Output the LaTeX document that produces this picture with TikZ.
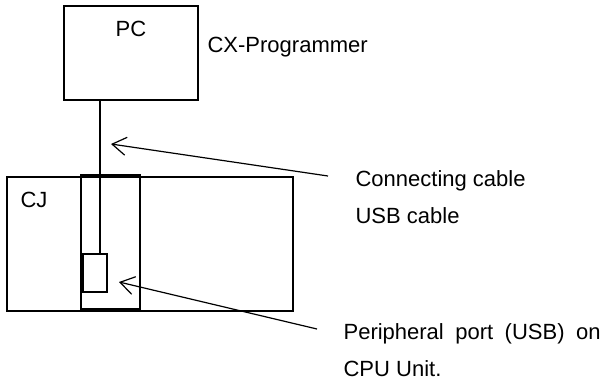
\documentclass[tikz,border=0pt]{standalone}
\usepackage{fontspec}
\setmainfont{Liberation Sans}
\usetikzlibrary{arrows.meta}

\begin{document}
\begin{tikzpicture}[x=0.5pt,y=-0.5pt,line width=0.6pt,
    box/.style={draw,rectangle,inner sep=0pt},
    lbl/.style={inner sep=0pt,font=\fontsize{11}{18.5}\selectfont,align=left},
    pointer/.style={-{Straight Barb[length=7pt,width=9pt]}}]
\useasboundingbox (0,0) rectangle (606,381);

% Units
\node[box,minimum width=67pt,minimum height=47pt] (pc) at (131,53) {};
\node[lbl] (pctext) at (131,28.5) {PC};
\node[lbl,anchor=base west] (cx) at (207,52) {CX-Programmer};
\node[box,minimum width=143pt,minimum height=67pt] (cj) at (150,244) {};
\node[lbl] (cjtext) at (34,199.5) {CJ};
\node[box,minimum width=29.5pt,minimum height=67pt] (slot) at (110.5,242) {};
\node[box,minimum width=12pt,minimum height=19pt] (port) at (95,273) {};

% Cable
\coordinate (plug) at (100,254);
\draw (plug |- pc.south) -- (plug |- port.north);

% Labels
\node[lbl,anchor=base west] (cable) at (355,223) {Connecting cable\\USB cable};
\node[lbl,anchor=base west] (usb) at (343,376)
    {\makebox[128.5pt][s]{Peripheral port (USB) on}\\CPU Unit.};

% Pointers
\coordinate (cabletail) at (328,176);
\coordinate (cabletip) at (111,144);
\coordinate (porttail) at (317,329);
\coordinate (porttip) at (119,282);
\draw[pointer] (cabletail) -- (cabletip);
\draw[pointer] (porttail) -- (porttip);
\end{tikzpicture}
\end{document}
